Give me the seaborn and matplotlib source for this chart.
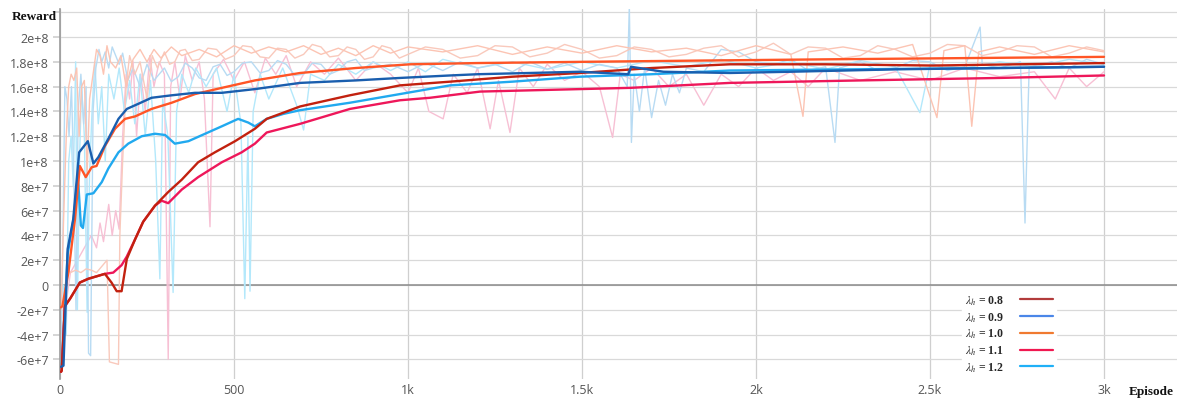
import numpy as np
import pandas as pd
import matplotlib
matplotlib.use("Agg")
import matplotlib.pyplot as plt
import seaborn as sns
from matplotlib.lines import Line2D
from matplotlib.ticker import FuncFormatter, FixedLocator

# ---------------- data (rewards in units of 1e7) ----------------
labels = ["0.8", "0.9", "1.0", "1.1", "1.2"]

# smoothed curves
ep_08 = [3, 5, 14, 29, 57, 81, 105, 129, 148, 163, 177, 192, 216, 239, 273, 311, 350, 397, 445, 503,
         560, 594, 690, 833, 977, 1121, 1300, 1494, 1700, 1925, 2200, 2509, 2750, 3000]
val_08 = [-7.0, -6.9, -1.7, -1.1, 0.2, 0.5, 0.7, 0.9, 0.2, -0.5, -0.5, 2.1, 3.7, 5.1, 6.4, 7.5, 8.5, 9.9, 10.7, 11.6,
          12.6, 13.4, 14.4, 15.3, 16.1, 16.4, 16.8, 17.1, 17.5, 17.8, 17.8, 17.7, 17.8, 17.9]

ep_09 = [3, 10, 22, 38, 55, 80, 96, 110, 139, 168, 192, 224, 263, 321, 388, 465, 560, 690, 850, 977,
         1121, 1200, 1350, 1494, 1633, 1641, 1734, 1925, 2100, 2414, 2700, 3000]
val_09 = [-6.6, -6.5, 2.9, 5.3, 10.7, 11.6, 9.8, 10.3, 11.8, 13.4, 14.2, 14.6, 15.1, 15.3, 15.5, 15.5, 15.8, 16.3, 16.5, 16.7,
          16.9, 17.0, 17.1, 17.2, 17.0, 17.6, 17.2, 17.1, 17.2, 17.4, 17.5, 17.6]

ep_10 = [3, 7, 24, 43, 57, 74, 91, 105, 129, 158, 187, 216, 263, 321, 388, 465, 560, 690, 850, 1006,
         1200, 1503, 1839, 2200, 2600, 3000]
val_10 = [-1.8, -1.7, 1.0, 5.3, 9.6, 8.7, 9.5, 9.6, 11.2, 12.6, 13.4, 13.6, 14.2, 14.7, 15.4, 15.9, 16.5, 17.1, 17.5, 17.8,
          17.9, 18.0, 18.1, 18.2, 18.3, 18.4]

ep_11 = [3, 5, 14, 29, 57, 81, 105, 129, 153, 177, 192, 216, 239, 273, 292, 311, 350, 397, 465, 522,
         560, 594, 690, 833, 977, 1063, 1207, 1494, 1638, 1925, 2300, 2700, 3000]
val_11 = [-7.0, -6.9, -1.7, -1.1, 0.2, 0.5, 0.7, 0.9, 1.0, 1.6, 2.3, 3.7, 5.1, 6.4, 6.8, 6.6, 7.7, 8.7, 9.9, 10.7,
          11.4, 12.3, 13.0, 14.2, 14.9, 15.1, 15.6, 15.8, 15.9, 16.3, 16.5, 16.7, 16.9]

ep_12 = [5, 22, 40, 50, 53, 60, 66, 77, 96, 120, 139, 168, 196, 235, 273, 302, 330, 369, 417, 465,
         512, 541, 560, 594, 642, 690, 833, 977, 1121, 1300, 1494, 1700, 1925, 2300, 2700, 3000]
val_12 = [-6.5, 2.5, 5.5, 8.5, 8.0, 4.8, 4.6, 7.3, 7.4, 8.3, 9.4, 10.7, 11.4, 12.0, 12.2, 12.1, 11.4, 11.6, 12.2, 12.8,
          13.4, 13.1, 12.8, 13.4, 13.8, 14.1, 14.7, 15.4, 16.1, 16.4, 16.8, 17.0, 17.3, 17.4, 17.5, 17.6]

# raw (unsmoothed) traces, (episode, reward/1e7)
raw_08 = [(3, -7), (10, -2), (20, 1.5), (30, 1.0), (45, 1.2), (60, 1.0), (75, 1.3), (90, 1.2), (105, 1.0),
          (120, 1.5), (135, 2.0), (142, -6.2), (155, -6.3), (168, -6.4), (172, 4.0), (180, 10), (190, 16),
          (200, 18.5), (215, 17), (230, 18), (250, 15), (265, 18.5), (280, 17.5), (300, 18.8), (315, 17.8),
          (330, 18), (345, 18.9), (360, 19), (380, 18.1), (400, 18.2), (425, 19.1), (450, 19), (475, 18.2),
          (500, 18.5), (525, 19.3), (550, 19.2), (575, 18.4), (600, 18.3), (625, 19.1), (650, 19), (675, 18.3),
          (700, 18.6), (725, 19.4), (750, 19.2), (775, 18.4), (800, 18.5), (825, 19.2), (850, 19), (875, 18.2),
          (900, 18.4), (925, 19.3), (950, 19.1), (975, 18.3), (1000, 18.6), (1050, 19.2), (1100, 19),
          (1150, 18.3), (1200, 18.5), (1250, 19.3), (1300, 19.2), (1350, 18.4), (1400, 18.7), (1450, 19.4),
          (1500, 19), (1550, 18.3), (1600, 18.5), (1650, 19.2), (1700, 19), (1750, 18.4), (1800, 18.6),
          (1850, 19.1), (1900, 19.3), (1950, 18.4), (2000, 18.8), (2050, 19.5), (2100, 18.6), (2150, 19.2),
          (2200, 19.1), (2250, 18.3), (2300, 18.5), (2350, 19.3), (2400, 19), (2450, 18.4), (2500, 18.7),
          (2550, 19.4), (2600, 19.3), (2650, 18.5), (2700, 18.8), (2750, 19.3), (2800, 19.2), (2850, 18.4),
          (2900, 18.7), (2950, 19.2), (3000, 18.9)]

raw_09 = [(3, -6), (8, 3), (14, 16), (20, 15), (26, 12), (33, 16), (40, 8), (46, -2), (52, 14), (60, 17),
          (68, 13), (75, 16), (82, -5.5), (88, -5.7), (95, 14), (103, 17.5), (112, 19), (120, 18),
          (130, 18.8), (140, 17.5), (150, 19.2), (160, 18.5), (170, 17.8), (180, 18.7), (195, 16.5),
          (210, 17.5), (230, 16), (250, 17.8), (270, 16.5), (300, 17.5), (320, 16.4), (340, 16.8), (360, 17.9),
          (380, 17.5), (400, 16.7), (420, 16.5), (440, 17.6), (460, 17.8), (480, 16.9), (500, 17.2), (525, 17.9),
          (550, 18), (575, 17.1), (600, 17.3), (625, 18.1), (650, 17.8), (675, 16.9), (700, 17), (725, 17.9),
          (750, 17.8), (775, 17.0), (800, 17.3), (825, 18.0), (850, 18.2), (875, 17.3), (900, 17.5), (950, 17.8),
          (1000, 17.2), (1050, 17.9), (1100, 17.3), (1150, 18), (1200, 17.5), (1250, 17.8), (1300, 17.2),
          (1350, 18), (1400, 17.4), (1450, 17.9), (1500, 17.3), (1550, 17.8), (1600, 17.5), (1630, 16),
          (1636, 22.5), (1642, 11.5), (1650, 17), (1665, 14), (1680, 17.5), (1700, 13.5), (1720, 16.5),
          (1740, 14.5), (1760, 17), (1780, 15.5), (1800, 17.5), (1850, 17.2), (1900, 19), (1950, 18.8),
          (2000, 18), (2050, 17.8), (2100, 18.2), (2150, 17.3), (2200, 17.6), (2227, 11.5), (2240, 17.5),
          (2300, 18), (2350, 17.3), (2400, 17.5), (2450, 18.1), (2500, 18), (2550, 17.3), (2600, 17.6),
          (2644, 20.8), (2650, 17.8), (2700, 17.5), (2760, 18), (2773, 5.0), (2785, 17.6), (2850, 18),
          (2900, 17.5), (2950, 18.2), (3000, 17.8)]

raw_10 = [(3, -2), (10, 5), (18, 12), (25, 16), (32, 17), (40, 16.5), (48, 17.5), (55, 12), (62, 16),
          (70, 16.5), (78, 9), (85, 15), (95, 17), (105, 19), (115, 18.5), (125, 17), (135, 19.3),
          (145, 18), (160, 17.5), (175, 18.5), (190, 16), (210, 18.2), (230, 19), (250, 18), (270, 19),
          (290, 18.3), (320, 19.2), (350, 18.5), (400, 19), (450, 18.4), (500, 19.3), (550, 18.7),
          (600, 19.2), (650, 18.8), (700, 19.3), (750, 18.6), (800, 19.1), (850, 18.5), (900, 19.3),
          (950, 18.7), (1000, 19.2), (1100, 18.8), (1200, 19.3), (1300, 18.6), (1400, 19.2), (1500, 18.7),
          (1600, 19.3), (1700, 18.8), (1800, 19.1), (1900, 18.5), (2000, 19.3), (2100, 18.6), (2135, 13.6),
          (2150, 18.8), (2250, 19.2), (2350, 18.7), (2450, 19.4), (2520, 13.5), (2540, 18.9), (2600, 19.3),
          (2620, 12.8), (2640, 18.8), (2700, 19.2), (2800, 18.6), (2900, 19.3), (3000, 18.8)]

raw_11 = [(3, -7), (15, -2), (30, 1), (50, 2), (70, 3), (90, 4), (105, 3), (115, 5), (125, 3.5),
          (140, 6.5), (150, 4), (160, 6), (170, 4.5), (180, 12), (190, 17), (200, 15), (210, 18),
          (220, 12), (232, 17), (245, 14), (258, 18.5), (270, 16), (285, 18), (300, 17), (311, -6),
          (318, 16), (330, 18), (345, 15), (360, 18.5), (380, 16.5), (400, 18), (415, 15), (431, 4.7),
          (440, 17), (470, 18.2), (500, 16.5), (530, 18), (560, 15.5), (590, 18.3), (620, 17), (650, 18.5),
          (680, 16), (720, 18), (760, 17), (800, 18.3), (850, 16.5), (900, 18), (950, 17), (1000, 15.5),
          (1030, 17.5), (1060, 14), (1101, 13.4), (1130, 17), (1170, 15.5), (1200, 17.5), (1236, 12.6),
          (1260, 16.5), (1293, 12.3), (1320, 17.5), (1360, 16), (1400, 17.8), (1450, 16.5), (1500, 17.2),
          (1550, 16), (1588, 11.9), (1610, 17), (1650, 16.5), (1700, 17.5), (1750, 16), (1800, 17),
          (1850, 14.5), (1900, 17), (1950, 16), (2000, 17.5), (2050, 16.5), (2100, 17.2), (2150, 16),
          (2200, 17.5), (2300, 16.5), (2400, 17.2), (2500, 16.5), (2600, 17.5), (2700, 16.8), (2800, 17.2),
          (2860, 15), (2900, 17.5), (2950, 16), (3000, 17.2)]

raw_12 = [(10, 0), (18, -4), (25, 10), (32, 12), (38, 8), (45, 18), (50, -2), (56, 10), (62, 16), (70, 12),
          (78, -2.2), (85, 9), (92, 14), (100, 18), (110, 13), (120, 16), (130, 10), (140, 17), (155, 15),
          (170, 17.5), (185, 14), (200, 16.5), (215, 13), (230, 17), (245, 12), (260, 16.5), (275, 10),
          (287, 0.5), (295, 15), (310, 12), (325, -0.6), (335, 14), (350, 17), (370, 15.5), (390, 17.5),
          (420, 16), (450, 17.5), (480, 14), (500, 17), (520, 13), (531, -1.1), (540, 12), (546, -0.5),
          (555, 14), (575, 17), (600, 15), (640, 17.5), (680, 14.5), (700, 12.5), (720, 17), (760, 16.5),
          (800, 17.8), (850, 17), (900, 18), (950, 17.3), (1000, 18), (1050, 17.2), (1100, 18.2),
          (1200, 17.5), (1300, 18), (1400, 17.4), (1500, 18), (1600, 17.5), (1700, 18.1), (1800, 17.6),
          (1900, 18.2), (2000, 17.5), (2100, 18), (2200, 17.4), (2300, 18.1), (2400, 17.6), (2471, 13.9),
          (2500, 17.8), (2600, 17.5), (2700, 18), (2800, 17.6), (2900, 18.2), (3000, 17.8)]

x_ticks = [0, 500, 1000, 1500, 2000, 2500, 3000]
x_ticklabels = ["0", "500", "1k", "1.5k", "2k", "2.5k", "3k"]

# ---------------- styles ----------------
line_colors = {"0.8": "#c2210f", "0.9": "#1a5eae", "1.0": "#ff5526", "1.1": "#ee175a", "1.2": "#21a9ef"}
raw_colors = {"0.8": "#f9c9bc", "0.9": "#b8dbf3", "1.0": "#fcc4b3", "1.1": "#f7c0d4", "1.2": "#b3e8fb"}
legend_colors = {"0.8": "#b23b3b", "0.9": "#4a86e8", "1.0": "#f07a30", "1.1": "#f01850", "1.2": "#1fb0f7"}

SCALE = 1e7
smooth = {"0.8": (ep_08, val_08), "0.9": (ep_09, val_09), "1.0": (ep_10, val_10),
          "1.1": (ep_11, val_11), "1.2": (ep_12, val_12)}
raw = {"0.8": raw_08, "0.9": raw_09, "1.0": raw_10, "1.1": raw_11, "1.2": raw_12}

sns.set_theme(style="white")
plt.rcParams["mathtext.fontset"] = "stix"

fig = plt.figure(figsize=(11.77, 4.02), dpi=100)
ax = fig.add_axes([60 / 1177, 22 / 402, 1 - 60 / 1177, (380 - 10) / 402])

# raw traces
for lab in ["1.1", "1.2", "0.9", "0.8", "1.0"]:
    pts = raw[lab]
    df = pd.DataFrame({"Episode": [p[0] for p in pts], "Reward": [p[1] * SCALE for p in pts]})
    sns.lineplot(data=df, x="Episode", y="Reward", ax=ax, color=raw_colors[lab], lw=1.0,
                 sort=False, estimator=None, zorder=2)

# smoothed curves
for lab in ["1.2", "1.1", "0.8", "1.0", "0.9"]:
    e, v = smooth[lab]
    df = pd.DataFrame({"Episode": e, "Reward": np.array(v) * SCALE})
    sns.lineplot(data=df, x="Episode", y="Reward", ax=ax, color=line_colors[lab], lw=1.7,
                 sort=False, estimator=None, zorder=3)

ax.set_xlim(0, (1177 - 60) / 0.348)
ax.set_ylim(-7.58e7, 2.226e8)

yt = np.arange(-6, 23, 2) * SCALE
ax.yaxis.set_major_locator(FixedLocator(yt))


def yfmt(v, pos):
    if abs(v) < 1:
        return "0"
    if v > 2.1e8:
        return ""
    e = int(np.floor(np.log10(abs(v)) + 1e-9))
    m = v / 10 ** e
    return f"{m:g}e+{e}"


ax.yaxis.set_major_formatter(FuncFormatter(yfmt))
ax.set_xticks(x_ticks)
ax.set_xticklabels(x_ticklabels)

ax.grid(True, axis="y", color="#d9d9d9", lw=0.9, zorder=0)
ax.grid(True, axis="x", color="#cfcfcf", lw=0.9, zorder=0)
ax.axhline(0, color="#8a8a8a", lw=1.1, zorder=1)

for s in ["top", "right", "bottom"]:
    ax.spines[s].set_visible(False)
ax.spines["left"].set_color("#9a9a9a")
ax.spines["left"].set_linewidth(1.2)

ax.tick_params(axis="y", length=5, color="#d0d0d0", labelsize=9, labelcolor="#555555", pad=3, left=True)
ax.tick_params(axis="x", length=0, labelsize=9, labelcolor="#555555", pad=3)
for t in ax.get_xticklabels() + ax.get_yticklabels():
    t.set_family("Open Sans")
ax.set_xlabel("")
ax.set_ylabel("")

fig.text(34 / 1177, 1 - 17 / 402, "Reward", family="Liberation Serif", weight="bold", fontsize=9.5,
         ha="center", va="center", color="#111111")
fig.text(1151 / 1177, 1 - 392 / 402, "Episode", family="Liberation Serif", weight="bold", fontsize=9.5,
         ha="center", va="center", color="#111111")

handles = [Line2D([], [], color=legend_colors[l], lw=1.6) for l in labels]
texts = [r"$\lambda_h$ = " + l for l in labels]
leg = ax.legend(handles, texts, loc="lower right", bbox_to_anchor=((1062 - 60) / 1117, -0.012),
                markerfirst=False, frameon=True, framealpha=1, edgecolor="white", facecolor="white",
                handlelength=2.8, handletextpad=1.3, labelspacing=0.28, borderpad=0.3,
                prop={"family": "Liberation Serif", "weight": "bold", "size": 8.5})
leg.set_zorder(5)

fig.savefig("out.png", dpi=100)
